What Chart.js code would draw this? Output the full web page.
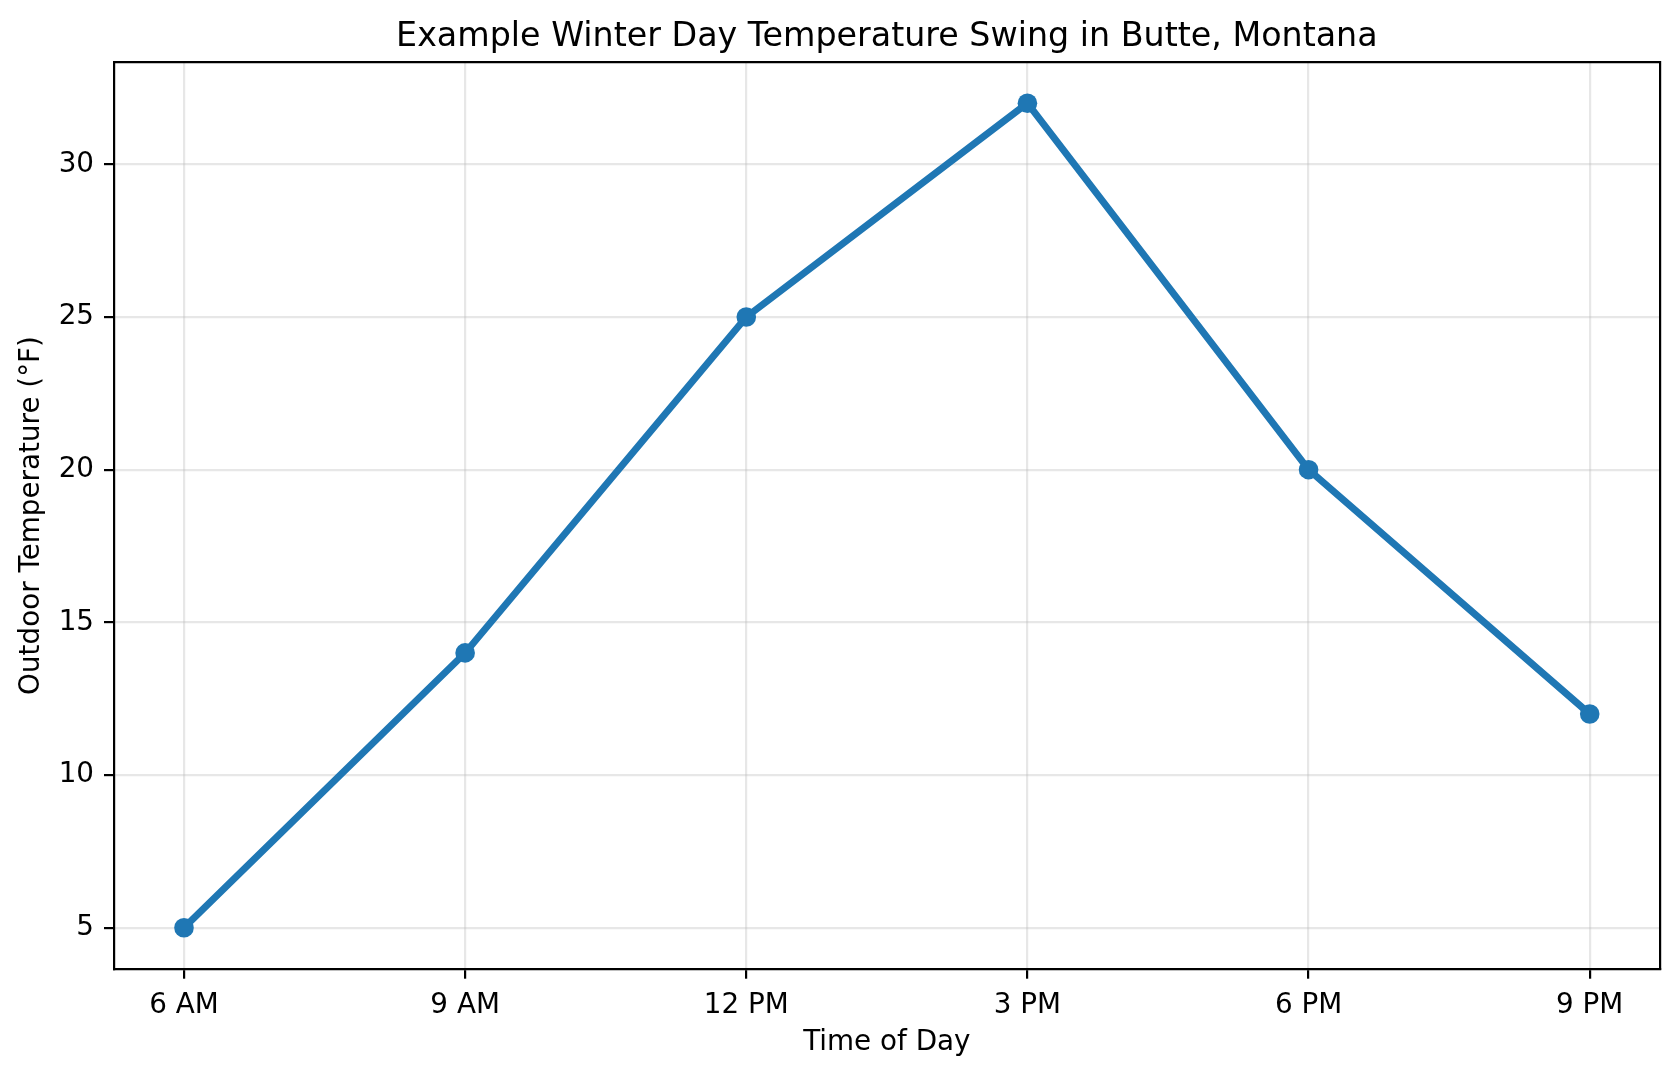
<!DOCTYPE html>
<html>
<head>
<meta charset="utf-8">
<script src="https://cdn.jsdelivr.net/npm/chart.js@4.4.1/dist/chart.umd.min.js"></script>
<style>
  html, body { margin: 0; padding: 0; background: #fff; }
  #wrap { width: 1680px; height: 1077px; position: relative; }
</style>
</head>
<body>
<div id="wrap"><canvas id="c"></canvas></div>
<script>
const chartTitle = 'Example Winter Day Temperature Swing in Butte, Montana';
const timeLabels = ['6 AM', '9 AM', '12 PM', '3 PM', '6 PM', '9 PM'];
const temperatures = [5, 14, 25, 32, 20, 12];
const yTickValues = [5, 10, 15, 20, 25, 30];
const xAxisTitle = 'Time of Day';
const yAxisTitle = 'Outdoor Temperature (°F)';

const FONT = 'DejaVu Sans';
const lineColor = '#1f77b4';
const gridColor = 'rgba(176,176,176,0.3)';

const yMin = Math.min(...temperatures), yMax = Math.max(...temperatures);
const yPad = (yMax - yMin) * 0.05;
const xPad = (timeLabels.length - 1) * 0.05;

const points = temperatures.map((v, i) => ({ x: i, y: v }));

new Chart(document.getElementById('c'), {
  type: 'line',
  data: {
    datasets: [{
      data: points,
      borderColor: lineColor,
      backgroundColor: lineColor,
      borderWidth: 7,
      pointRadius: 9.8,
      pointHoverRadius: 9.8,
      pointBorderWidth: 0,
      pointBackgroundColor: lineColor,
      tension: 0,
      fill: false,
      clip: false
    }]
  },
  options: {
    responsive: true,
    maintainAspectRatio: false,
    animation: false,
    events: [],
    layout: { padding: 0 },
    plugins: {
      legend: { display: false },
      title: { display: false },
      tooltip: { enabled: false }
    },
    scales: {
      x: {
        type: 'linear',
        position: 'bottom',
        min: -xPad,
        max: timeLabels.length - 1 + xPad,
        afterBuildTicks: s => { s.ticks = timeLabels.map((_, i) => ({ value: i })); },
        afterFit: s => { s.height = 108; },
        ticks: {
          callback: v => timeLabels[v],
          font: { family: FONT, size: 27.8 },
          color: '#000',
          padding: 10,
          maxRotation: 0,
          autoSkip: false
        },
        grid: {
          color: gridColor,
          lineWidth: 2.2,
          drawTicks: true,
          tickLength: 9.7,
          tickColor: '#000',
          tickWidth: 2.2
        },
        border: { display: true, color: '#000', width: 2.2 },
        title: {
          display: true,
          text: xAxisTitle,
          font: { family: FONT, size: 27.8 },
          color: '#000',
          padding: { top: 0, bottom: 18 }
        }
      },
      xTop: {
        type: 'linear',
        position: 'top',
        min: -xPad,
        max: timeLabels.length - 1 + xPad,
        afterFit: s => { s.height = 62; },
        ticks: { display: false },
        grid: { display: false, drawOnChartArea: false, drawTicks: false },
        border: { display: true, color: '#000', width: 2.2 },
        title: {
          display: true,
          text: chartTitle,
          font: { family: FONT, size: 33.3 },
          color: '#000',
          padding: { top: 17, bottom: 0 }
        }
      },
      y: {
        type: 'linear',
        position: 'left',
        min: yMin - yPad,
        max: yMax + yPad,
        afterBuildTicks: s => { s.ticks = yTickValues.map(v => ({ value: v })); },
        afterFit: s => { s.width = 113.7; },
        ticks: {
          font: { family: FONT, size: 27.8 },
          color: '#000',
          padding: 10
        },
        grid: {
          color: gridColor,
          lineWidth: 2.2,
          drawTicks: true,
          tickLength: 9.7,
          tickColor: '#000',
          tickWidth: 2.2
        },
        border: { display: true, color: '#000', width: 2.2 },
        title: {
          display: true,
          text: yAxisTitle,
          font: { family: FONT, size: 27.8 },
          color: '#000',
          padding: { top: 15, bottom: 0 }
        }
      },
      yRight: {
        type: 'linear',
        position: 'right',
        min: yMin - yPad,
        max: yMax + yPad,
        afterFit: s => { s.width = 20; },
        ticks: { display: false },
        grid: { display: false, drawOnChartArea: false, drawTicks: false },
        border: { display: true, color: '#000', width: 2.2 }
      }
    }
  }
});
</script>
</body>
</html>
